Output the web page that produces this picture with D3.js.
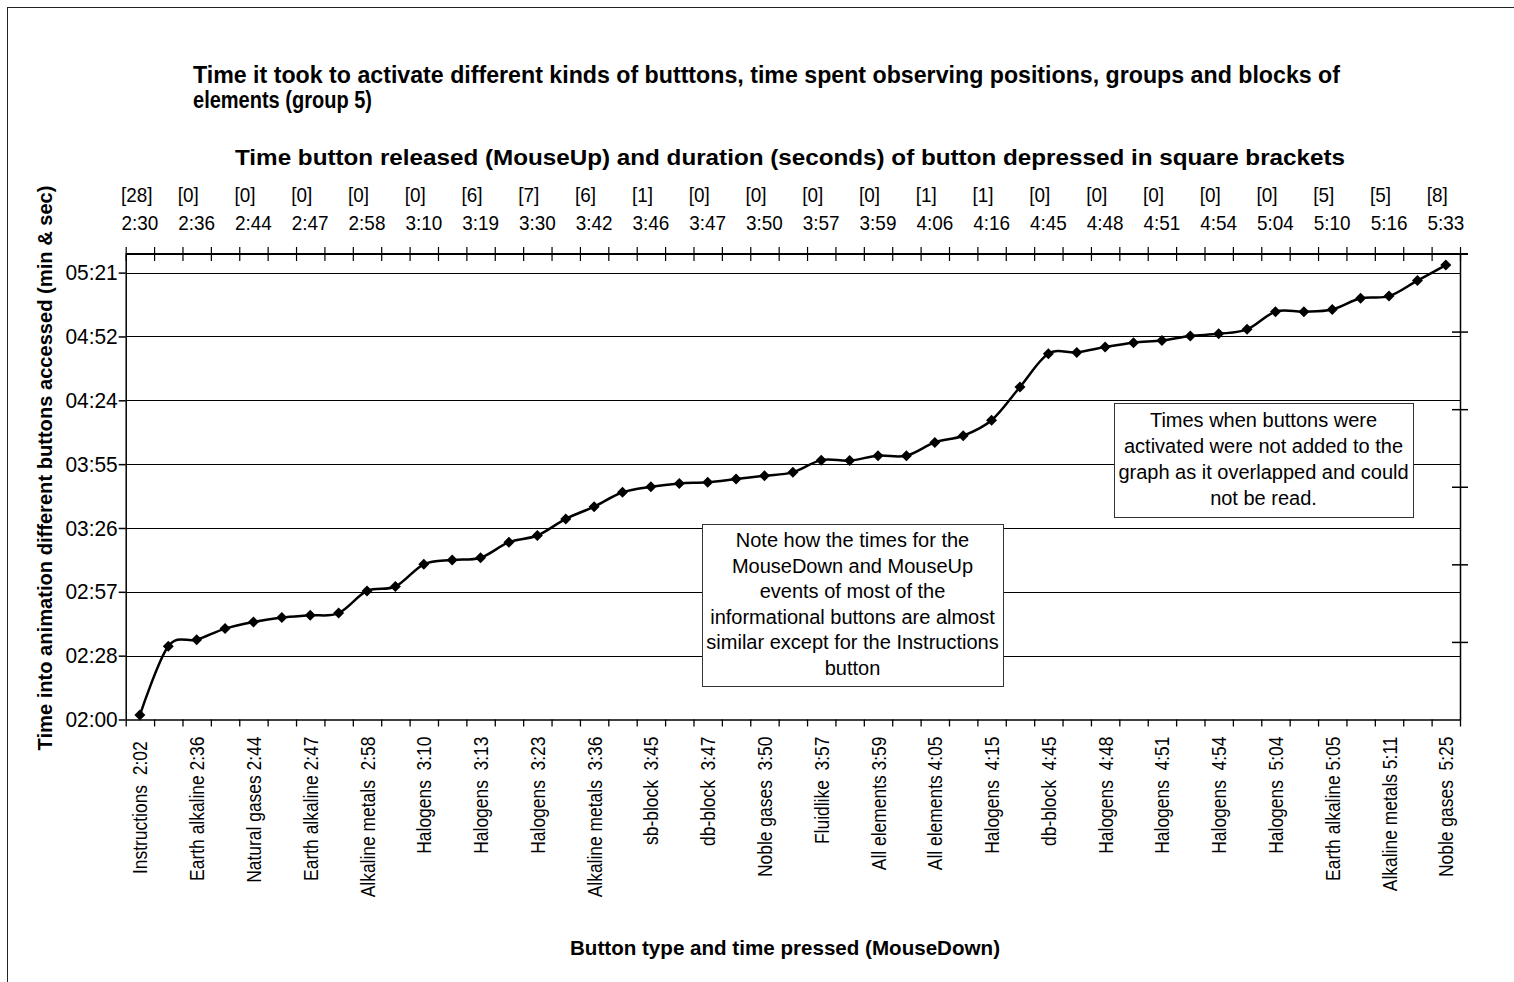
<!DOCTYPE html>
<html>
<head>
<meta charset="utf-8">
<script src="https://cdn.jsdelivr.net/npm/d3@7"></script>
<style>
  html, body { margin: 0; padding: 0; background: #fff; }
  svg { display: block; }
  text { font-family: "Liberation Sans", Arial, sans-serif; fill: #000; white-space: pre; }
</style>
</head>
<body>
<svg id="chart" width="1514" height="982"></svg>
<script>
// ---------------- DATA ----------------
const chartTitle1 = "Time it took to activate different kinds of butttons, time spent observing positions, groups and blocks of";
const chartTitle2 = "elements (group 5)";
const topAxisTitle = "Time button released (MouseUp) and duration (seconds) of button depressed in square brackets";
const bottomAxisTitle = "Button type and time pressed (MouseDown)";
const yAxisTitle = "Time into animation different buttons accessed (min & sec)";

// 47 categories; labels on every other category (MouseDown button + time)
const bottomLabels = [
  "Instructions  2:02 ", "Earth alkaline 2:36", "Natural gases 2:44", "Earth alkaline 2:47",
  "Alkaline metals  2:58", "Halogens  3:10", "Halogens  3:13", "Halogens  3:23",
  "Alkaline metals  3:36", "sb-block  3:45", "db-block  3:47", "Noble gases  3:50",
  "Fluidlike  3:57", "All elements 3:59", "All elements 4:05", "Halogens  4:15",
  "db-block  4:45", "Halogens  4:48", "Halogens  4:51", "Halogens  4:54",
  "Halogens  5:04", "Earth alkaline 5:05", "Alkaline metals 5:11", "Noble gases  5:25"
];
// MouseUp time and [duration] labels (top axis)
const topDurations = ["[28]","[0]","[0]","[0]","[0]","[0]","[6]","[7]","[6]","[1]","[0]","[0]",
                      "[0]","[0]","[1]","[1]","[0]","[0]","[0]","[0]","[0]","[5]","[5]","[8]"];
const topTimes = ["2:30","2:36","2:44","2:47","2:58","3:10","3:19","3:30","3:42","3:46","3:47","3:50",
                  "3:57","3:59","4:06","4:16","4:45","4:48","4:51","4:54","5:04","5:10","5:16","5:33"];

// series values: seconds into the animation, one per category (47)
const timeSeconds = [
  122, 153, 156, 161, 164, 166, 167, 168, 178, 180,
  190, 192, 193, 200, 203, 210.5, 216, 222.5, 225, 226.5,
  227, 228.5, 230, 231.5, 237, 236.8, 239, 239, 245, 248,
  255, 270, 285, 285.6, 288, 290, 291, 293, 294, 296,
  304, 304, 305, 310, 311, 318, 325
];

// y-axis ticks (seconds) and their labels
const yTickValues = [120, 148.8, 177.6, 206.4, 235.2, 264, 292.8, 321.6];
const yTickLabels = ["02:00","02:28","02:57","03:26","03:55","04:24","04:52","05:21"];
const yDomain = [120, 330];

const note1Lines = ["Note how the times for the", "MouseDown and MouseUp", "events of most of the",
                    "informational buttons are almost", "similar except for the Instructions", "button"];
const note2Lines = ["Times when buttons were", "activated were not added to the",
                    "graph as it overlapped and could", "not be read."];

// ---------------- LAYOUT ----------------
const svg = d3.select("#chart");
const P = { left: 125.7, right: 1460, top: 254, bottom: 719.5 };
const N = timeSeconds.length;

const x = d3.scaleBand().domain(d3.range(N)).range([P.left, P.right]).padding(0);
const xEdge = d3.scaleLinear().domain([0, N]).range([P.left, P.right]);
const y = d3.scaleLinear().domain(yDomain).range([P.bottom, P.top]);
const yRight = d3.scaleLinear().domain([0, 6]).range([P.bottom, P.top]);
const cx = i => x(i) + x.bandwidth() / 2;

function squeeze(sel, k) {
  sel.each(function () {
    const w = this.getComputedTextLength();
    d3.select(this).attr("textLength", w * k).attr("lengthAdjust", "spacingAndGlyphs");
  });
}
function fitTo(sel, len) {
  sel.attr("textLength", len).attr("lengthAdjust", "spacingAndGlyphs");
}

svg.append("rect").attr("x", 0).attr("y", 0).attr("width", 1514).attr("height", 982).attr("fill", "#fff");
// outer chart frame
svg.append("rect").attr("x", 7.5).attr("y", 7.5).attr("width", 1600).attr("height", 1100)
  .attr("fill", "none").attr("stroke", "#222").attr("stroke-width", 1);

// gridlines
svg.append("g").selectAll("line").data(yTickValues.slice(1)).join("line")
  .attr("x1", P.left).attr("x2", P.right)
  .attr("y1", d => Math.round(y(d)) + 0.5).attr("y2", d => Math.round(y(d)) + 0.5)
  .attr("stroke", "#000").attr("stroke-width", 1);

// left axis
const gLeft = svg.append("g").attr("transform", `translate(${P.left},0)`)
  .call(d3.axisLeft(y).tickValues(yTickValues).tickFormat((d, i) => yTickLabels[i])
    .tickSize(7).tickSizeOuter(0).tickPadding(1));
gLeft.attr("font-family", null).attr("font-size", null);
gLeft.selectAll("path,line").attr("stroke", "#000").attr("stroke-width", 1.5);
gLeft.selectAll("text").style("font-size", "22px");
squeeze(gLeft.selectAll("text"), 0.95);

// right axis (unlabelled)
const gRight = svg.append("g").attr("transform", `translate(${P.right},0)`)
  .call(d3.axisRight(yRight).tickValues([1, 2, 3, 4, 5]).tickFormat("").tickSize(8).tickSizeOuter(0));
gRight.selectAll("path,line").attr("stroke", "#000").attr("stroke-width", 1.5);
gRight.selectAll(".tick line").attr("x1", -8);

// bottom axis ticks
const gBottom = svg.append("g").attr("transform", `translate(0,${P.bottom})`)
  .call(d3.axisBottom(xEdge).tickValues(d3.range(N + 1)).tickFormat("").tickSize(7).tickSizeOuter(0));
gBottom.selectAll("path,line").attr("stroke", "#000").attr("stroke-width", 1.3);

// bottom labels
const labelIdx = d3.range(0, N, 2);
const gBottomLab = svg.append("g").attr("transform", `translate(0,${P.bottom})`)
  .call(d3.axisBottom(x).tickValues(labelIdx).tickFormat((d, i) => bottomLabels[i]).tickSize(0));
gBottomLab.attr("font-family", null).attr("font-size", null);
gBottomLab.select(".domain").remove();
gBottomLab.selectAll("text")
  .style("font-size", "21px")
  .attr("transform", "rotate(-90)")
  .attr("text-anchor", "end")
  .attr("x", -17).attr("y", 0).attr("dy", "0.36em");
squeeze(gBottomLab.selectAll("text"), 0.83);

// top axis ticks (crossing)
const gTop = svg.append("g").attr("transform", `translate(0,${P.top})`)
  .call(d3.axisTop(xEdge).tickValues(d3.range(N + 1)).tickFormat("").tickSize(7).tickSizeOuter(0));
gTop.select(".domain").remove();
gTop.selectAll(".tick line").attr("y1", 7).attr("stroke", "#000").attr("stroke-width", 1.2);
gTop.append("line").attr("x1", P.left).attr("x2", P.right + 8).attr("y1", 0).attr("y2", 0)
  .attr("stroke", "#000").attr("stroke-width", 2);

// top labels
const gTopLab = svg.append("g");
const tDur = gTopLab.selectAll("text.dur").data(labelIdx).join("text").attr("class", "dur")
  .attr("x", d => cx(d) - 19).attr("y", 202).attr("text-anchor", "start")
  .style("font-size", "21px").text((d, i) => topDurations[i]);
squeeze(tDur, 0.9);
const tTime = gTopLab.selectAll("text.tm").data(labelIdx).join("text").attr("class", "tm")
  .attr("x", d => cx(d)).attr("y", 230).attr("text-anchor", "middle")
  .style("font-size", "21px").text((d, i) => topTimes[i]);
squeeze(tTime, 0.9);

// series line
const line = d3.line().x((d, i) => cx(i)).y(d => y(d)).curve(d3.curveCatmullRom.alpha(0));
svg.append("path").datum(timeSeconds).attr("d", line)
  .attr("fill", "none").attr("stroke", "#000").attr("stroke-width", 2.5);
svg.append("g").selectAll("path").data(timeSeconds).join("path")
  .attr("transform", (d, i) => `translate(${cx(i)},${y(d)})`)
  .attr("d", "M0,-5.5L5.5,0L0,5.5L-5.5,0Z").attr("fill", "#000");

// notes
function note(bx, by, bw, bh, lines, y0, lh) {
  const g = svg.append("g");
  g.append("rect").attr("x", bx + 0.5).attr("y", by + 0.5).attr("width", bw).attr("height", bh)
    .attr("fill", "#fff").attr("stroke", "#333").attr("stroke-width", 1);
  g.selectAll("text").data(lines).join("text")
    .attr("x", bx + bw / 2).attr("y", (d, i) => y0 + i * lh)
    .attr("text-anchor", "middle").style("font-size", "20px").text(d => d);
}
note(702, 524, 301, 162, note1Lines, 547, 25.5);
note(1114, 403, 299, 114, note2Lines, 427, 26);

// titles
const t1 = svg.append("text").attr("x", 193).attr("y", 83).style("font-size", "23px")
  .style("font-weight", "bold").text(chartTitle1);
fitTo(t1, 1147);
const t2 = svg.append("text").attr("x", 193).attr("y", 108).style("font-size", "23px")
  .style("font-weight", "bold").text(chartTitle2);
fitTo(t2, 179);
const tt = svg.append("text").attr("x", 790).attr("y", 165).attr("text-anchor", "middle")
  .style("font-size", "22px").style("font-weight", "bold").text(topAxisTitle);
fitTo(tt, 1110);
const bt = svg.append("text").attr("x", 785).attr("y", 955).attr("text-anchor", "middle")
  .style("font-size", "21px").style("font-weight", "bold").text(bottomAxisTitle);
fitTo(bt, 430);
const yt = svg.append("text").attr("transform", "translate(44,468) rotate(-90)").attr("dy", "0.36em")
  .attr("text-anchor", "middle").style("font-size", "21px").style("font-weight", "bold").text(yAxisTitle);
fitTo(yt, 565);
</script>
</body>
</html>
